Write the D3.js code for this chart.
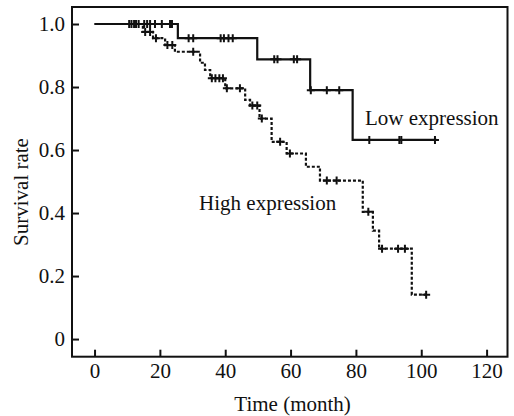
<!DOCTYPE html>
<html>
<head>
<meta charset="utf-8">
<script src="https://cdn.jsdelivr.net/npm/d3@7"></script>
<style>
  body { margin: 0; background: #fff; }
  text { font-family: "Liberation Serif", "Times New Roman", serif; fill: #111; }
</style>
</head>
<body>
<div id="chart"></div>
<script>
// Kaplan-Meier steps (time in months, survival after the drop)
var lowTimes = [0, 25.5, 49.8, 66.0, 79.0]
var lowSurv = [1.0, 0.955, 0.888, 0.79, 0.632]
var lowEnd = 104.7
var lowCensor = [11.3, 12.7, 13.5, 15.2, 16.1, 17.0, 18.5, 20.6, 23.1, 23.7, 28.8, 30.2,
  38.6, 39.6, 41.0, 42.3, 55.0, 56.0, 61.0, 62.0, 66.2, 71.1, 74.9, 84.1, 93.3, 93.9, 104.2]

var highTimes = [0, 14.8, 17.9, 21.6, 24.6, 32.3, 33.8, 35.4, 40.0, 46.1, 47.6, 50.5,
  54.2, 58.8, 64.7, 69.0, 82.1, 85.2, 87.1, 97.1]
var highSurv = [1.0, 0.975, 0.955, 0.933, 0.912, 0.877, 0.854, 0.828, 0.796, 0.759, 0.741, 0.70,
  0.626, 0.589, 0.547, 0.503, 0.404, 0.344, 0.287, 0.141]
var highEnd = 101.5
var highCensor = [10.6, 12.1, 15.5, 17.0, 18.8, 22.3, 23.8, 30.2, 35.9, 37.0, 38.2, 39.3,
  40.5, 44.5, 48.3, 49.8, 51.2, 56.8, 59.8, 71.1, 74.1, 83.8, 88.0, 92.9, 95.0, 101.5]

var xTicks = [0, 20, 40, 60, 80, 100, 120]
var yTicks = [0, 0.2, 0.4, 0.6, 0.8, 1.0]

var width = 514, height = 416
var frame = { left: 72, top: 7, right: 507.5, bottom: 356.7 }

var svg = d3.select('#chart').append('svg')
    .attr('width', width)
    .attr('height', height)

var x = d3.scaleLinear().domain([-6.9, 126.4]).range([frame.left, frame.right])
var y = d3.scaleLinear().domain([-0.056, 1.054]).range([frame.bottom, frame.top])

// axes, ticks pointing inward
var xAxis = svg.append('g')
    .attr('transform', 'translate(0,' + frame.bottom + ')')
    .call(d3.axisBottom(x).tickValues(xTicks).tickSizeInner(-7).tickSizeOuter(0).tickPadding(6.5))
var yAxis = svg.append('g')
    .attr('transform', 'translate(' + frame.left + ',0)')
    .call(d3.axisLeft(y).tickValues(yTicks).tickSizeInner(-7).tickSizeOuter(0).tickPadding(7)
      .tickFormat(function(d) { return d === 0 ? '0' : d3.format('.1f')(d) }))

svg.selectAll('.domain').remove()
svg.selectAll('.tick line').attr('stroke', '#111').attr('stroke-width', 2)
svg.selectAll('.tick text').style('font-size', '21px').attr('fill', '#111')

svg.append('rect')
    .attr('x', frame.left)
    .attr('y', frame.top)
    .attr('width', frame.right - frame.left)
    .attr('height', frame.bottom - frame.top)
    .attr('fill', 'none')
    .attr('stroke', '#111')
    .attr('stroke-width', 2)

function stepPoints(times, surv, end) {
  var pts = times.map(function(t, i) { return [t, surv[i]] })
  pts.push([end, surv[surv.length - 1]])
  return pts
}

function survAt(times, surv, t) {
  var s = surv[0]
  for (var i = 0; i < times.length; i++) {
    if (times[i] <= t) s = surv[i]
  }
  return s
}

var line = d3.line()
    .x(function(d) { return x(d[0]) })
    .y(function(d) { return y(d[1]) })
    .curve(d3.curveStepAfter)

var groups = [
  { times: lowTimes, surv: lowSurv, end: lowEnd, censor: lowCensor, dash: null },
  { times: highTimes, surv: highSurv, end: highEnd, censor: highCensor, dash: '3,2' }
]

groups.forEach(function(g) {
  svg.append('path')
      .datum(stepPoints(g.times, g.surv, g.end))
      .attr('d', line)
      .attr('fill', 'none')
      .attr('stroke', '#111')
      .attr('stroke-width', 2.2)
      .attr('stroke-dasharray', g.dash)

  svg.append('g')
    .selectAll('path')
    .data(g.censor)
    .enter()
    .append('path')
    .attr('d', function(t) {
      var cx = x(t), cy = y(survAt(g.times, g.surv, t))
      return 'M' + (cx - 4) + ',' + cy + 'H' + (cx + 4) + 'M' + cx + ',' + (cy - 4) + 'V' + (cy + 4)
    })
    .attr('stroke', '#111')
    .attr('stroke-width', 2)
    .attr('fill', 'none')
})

svg.append('text')
    .attr('x', x(82.8))
    .attr('y', y(0.679))
    .style('font-size', '21px')
    .text('Low expression')

svg.append('text')
    .attr('x', x(32))
    .attr('y', y(0.41))
    .style('font-size', '21px')
    .text('High expression')

svg.append('text')
    .attr('x', (x(0) + x(120)) / 2 + 2)
    .attr('y', 410.5)
    .attr('text-anchor', 'middle')
    .style('font-size', '21px')
    .text('Time (month)')

svg.append('text')
    .attr('transform', 'translate(27.5,' + 192 + ') rotate(-90)')
    .attr('text-anchor', 'middle')
    .style('font-size', '21px')
    .text('Survival rate')
</script>
</body>
</html>
